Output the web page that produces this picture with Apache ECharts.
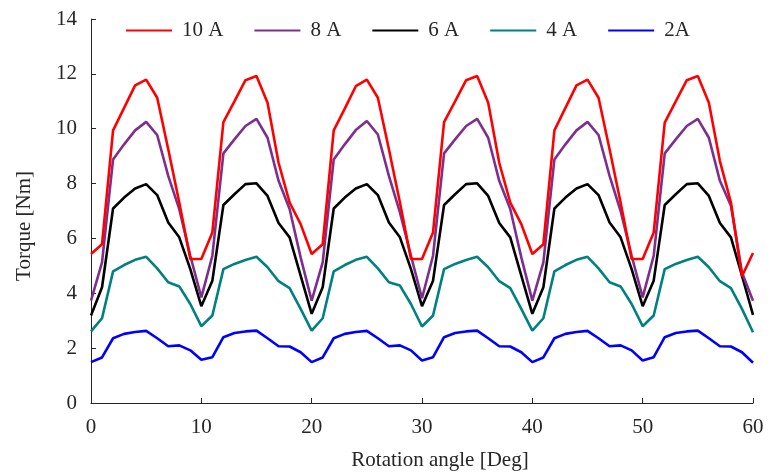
<!DOCTYPE html>
<html>
<head>
<meta charset="utf-8">
<script src="https://cdn.jsdelivr.net/npm/echarts@6/dist/echarts.min.js"></script>
<style>html,body{margin:0;padding:0;background:#fff}#c{width:770px;height:476px}</style>
</head>
<body>
<div id="c"></div>
<script>
const angles = [0,1,2,3,4,5,6,7,8,9,10,11,12,13,14,15,16,17,18,19,20,21,22,23,24,25,26,27,28,29,30,31,32,33,34,35,36,37,38,39,40,41,42,43,44,45,46,47,48,49,50,51,52,53,54,55,56,57,58,59,60];
const seriesNames = ["10 A", "8 A", "6 A", "4 A", "2A"];
const torque10A = [5.43,5.79,9.94,10.76,11.58,11.79,11.13,9.25,7.31,5.25,5.25,
  6.22,10.24,11.0,11.77,11.92,10.95,8.76,7.31,6.52,5.43,
  5.79,9.94,10.73,11.55,11.79,11.13,9.25,7.31,5.25,5.25,
  6.22,10.24,11.0,11.77,11.92,10.95,8.76,7.31,6.52,5.43,
  5.79,9.94,10.76,11.58,11.79,11.13,9.25,7.31,5.25,5.25,
  6.22,10.22,11.0,11.77,11.92,10.95,8.82,7.31,4.62,5.47];
const torque8A = [3.73,5.13,8.88,9.43,9.94,10.25,9.77,8.28,7.07,5.37,3.85,
  5.37,9.10,9.61,10.10,10.36,9.67,8.10,7.07,5.31,3.73,
  5.13,8.88,9.43,9.95,10.28,9.79,8.28,6.95,5.37,3.82,
  5.37,9.10,9.61,10.10,10.36,9.67,8.10,7.07,5.31,3.73,
  5.13,8.88,9.43,9.94,10.25,9.77,8.28,7.00,5.37,3.85,
  5.37,9.10,9.61,10.10,10.36,9.67,8.10,7.19,4.76,3.73];
const torque6A = [3.19,4.22,7.09,7.49,7.82,7.98,7.58,6.58,6.04,4.88,3.53,
  4.46,7.22,7.61,7.98,8.01,7.55,6.56,6.04,4.64,3.25,
  4.22,7.09,7.49,7.82,7.98,7.58,6.58,6.04,4.88,3.53,
  4.46,7.22,7.61,7.98,8.01,7.55,6.56,6.04,4.64,3.25,
  4.22,7.09,7.49,7.82,7.98,7.58,6.58,6.04,4.88,3.53,
  4.46,7.22,7.61,7.98,8.01,7.55,6.56,6.04,4.64,3.21];
const torque4A = [2.61,3.09,4.80,5.03,5.22,5.33,4.91,4.40,4.25,3.61,2.80,
  3.19,4.88,5.07,5.21,5.33,4.95,4.44,4.19,3.43,2.64,
  3.09,4.80,5.03,5.22,5.33,4.91,4.40,4.28,3.61,2.79,
  3.19,4.88,5.07,5.21,5.33,4.95,4.44,4.19,3.43,2.64,
  3.09,4.80,5.03,5.22,5.33,4.91,4.40,4.25,3.61,2.80,
  3.19,4.88,5.07,5.21,5.33,4.95,4.44,4.19,3.43,2.58];
const torque2A = [1.49,1.66,2.36,2.52,2.59,2.63,2.36,2.07,2.10,1.92,1.58,
  1.67,2.40,2.55,2.61,2.64,2.36,2.07,2.06,1.85,1.49,
  1.66,2.36,2.52,2.59,2.63,2.36,2.07,2.10,1.92,1.55,
  1.67,2.40,2.55,2.61,2.64,2.36,2.07,2.06,1.85,1.49,
  1.66,2.36,2.52,2.59,2.63,2.36,2.07,2.10,1.92,1.55,
  1.67,2.40,2.55,2.61,2.64,2.36,2.07,2.06,1.85,1.47];
const colors = ["#ff0000", "#7e2f8e", "#000000", "#008080", "#0000ff"];
const allData = [torque10A, torque8A, torque6A, torque4A, torque2A];

const FONT = "Liberation Serif";
const chart = echarts.init(document.getElementById('c'), null, {renderer: 'canvas'});
const axisColor = '#262626';
chart.setOption({
  animation: false,
  backgroundColor: '#ffffff',
  textStyle: {fontFamily: FONT, color: axisColor},
  legend: {
    top: 15, left: 121,
    itemWidth: 46, itemHeight: 14, itemGap: 31,
    icon: 'path://M0,6L46,6L46,8L0,8Z',
    textStyle: {fontFamily: FONT, fontSize: 21, color: axisColor, padding: [0,0,0,5]},
    data: seriesNames.map((n, i) => ({name: n, itemStyle: {color: colors[i]}}))
  },
  grid: {left: 91, right: 17, top: 19, bottom: 72},
  xAxis: {
    type: 'value', min: 0, max: 60, interval: 10,
    name: 'Rotation angle [Deg]', nameLocation: 'middle', nameGap: 47,
    nameTextStyle: {fontFamily: FONT, fontSize: 21, color: axisColor, padding: [0,0,0,36]},
    axisLine: {show: true, lineStyle: {color: axisColor, width: 1}},
    axisTick: {show: true, inside: true, length: 5, lineStyle: {color: axisColor}},
    axisLabel: {fontFamily: FONT, fontSize: 21, color: axisColor, margin: 14},
    splitLine: {show: false}
  },
  yAxis: {
    type: 'value', min: 0, max: 14, interval: 2,
    name: 'Torque [Nm]', nameLocation: 'middle', nameGap: 56,
    nameTextStyle: {fontFamily: FONT, fontSize: 21, color: axisColor, padding: [0,30,0,0]},
    axisLine: {show: true, lineStyle: {color: axisColor, width: 1}},
    axisTick: {show: true, inside: true, length: 5, lineStyle: {color: axisColor}},
    axisLabel: {fontFamily: FONT, fontSize: 21, color: axisColor, margin: 14},
    splitLine: {show: false}
  },
  series: seriesNames.map((n, i) => ({
    name: n, type: 'line', showSymbol: false, symbol: 'none',
    data: angles.map((a, k) => [a, allData[i][k]]),
    lineStyle: {color: colors[i], width: 2.6},
    itemStyle: {color: colors[i]},
    z: 10 - i
  }))
});
</script>
</body>
</html>
